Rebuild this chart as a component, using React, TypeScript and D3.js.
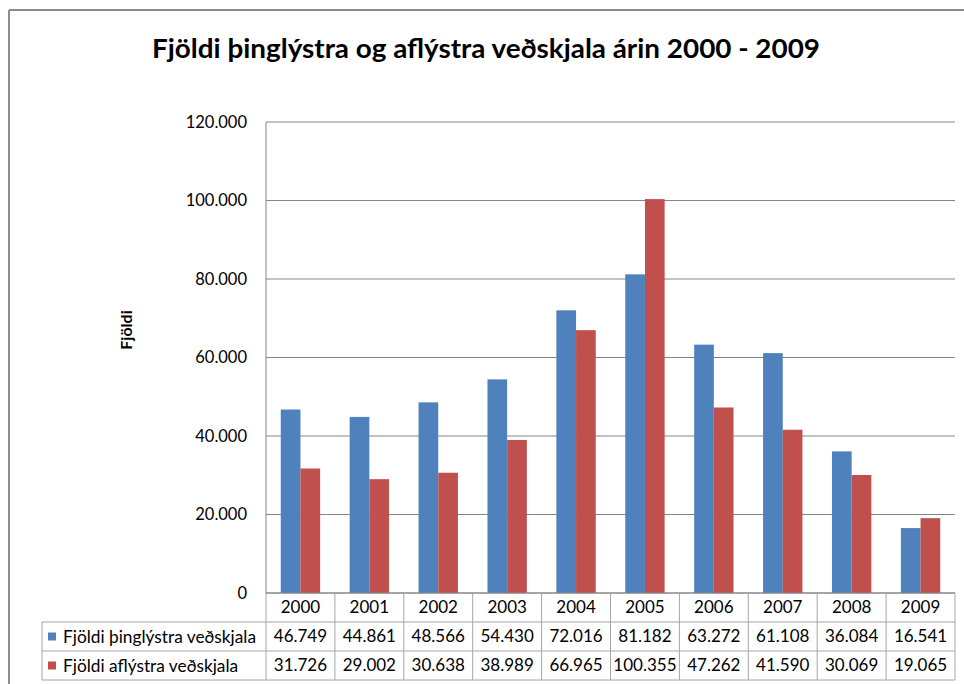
import React from "react";
import * as d3 from "d3";

const years = ["2000", "2001", "2002", "2003", "2004", "2005", "2006", "2007", "2008", "2009"];
const seriesNames = ["Fjöldi þinglýstra veðskjala", "Fjöldi aflýstra veðskjala"];
const thinglyst = [46749, 44861, 48566, 54430, 72016, 81182, 63272, 61108, 36084, 16541];
const aflyst = [31726, 29002, 30638, 38989, 66965, 100355, 47262, 41590, 30069, 19065];
const yTicks = [0, 20000, 40000, 60000, 80000, 100000, 120000];
const colors = ["#4F81BD", "#C0504D"];
const title = "Fjöldi þinglýstra og aflýstra veðskjala árin 2000 - 2009";
const yLabel = "Fjöldi";

const fmt = (v: number) => (v === 0 ? "0" : d3.format(",")(v).replace(/,/g, "."));

export default function App() {
  const W = 964, H = 684;
  const left = 266, right = 955, top = 122, bottom = 593;
  const rowH = 29;
  const legendLeft = 42;
  const font = "Lato, 'Open Sans', sans-serif";
  const grid = "#868686";
  const tableLine = "#A6A6A6";

  const x = d3.scaleBand<string>().domain(years).range([left, right]).padding(0);
  const xi = d3.scaleBand<number>().domain([0, 1]).range([0, x.bandwidth()]).paddingInner(0).paddingOuter(0.75);
  const y = d3.scaleLinear().domain([0, 120000]).range([bottom, top]);
  const series = [thinglyst, aflyst];

  const rowsY = [bottom, bottom + rowH, bottom + 2 * rowH, bottom + 3 * rowH];

  return (
    <svg width={W} height={H} style={{ position: "absolute", left: 0, top: 0, background: "#fff" }}>
      {/* frame */}
      <line x1={9} y1={10} x2={W} y2={10} stroke="#8c8c8c" strokeWidth={2} />
      <line x1={9} y1={10} x2={9} y2={H} stroke="#8c8c8c" strokeWidth={2} />

      <text x={486} y={58} textAnchor="middle" fontFamily={font} fontWeight="bold" fontSize={26} textLength={668} lengthAdjust="spacingAndGlyphs" fill="#000">
        {title}
      </text>

      {/* gridlines */}
      {yTicks.map((t) => (
        <g key={t}>
          <line x1={left} x2={right} y1={y(t)} y2={y(t)} stroke={grid} strokeWidth={1} />
          <text x={247} y={y(t)} dy="0.35em" textAnchor="end" fontFamily={font} fontSize={16.5} fill="#000">
            {fmt(t)}
          </text>
        </g>
      ))}
      <line x1={left} x2={left} y1={top} y2={bottom} stroke={grid} />

      <text transform={`translate(132,330) rotate(-90)`} textAnchor="middle" fontFamily={font} fontWeight="bold" fontSize={16} fill="#000">
        {yLabel}
      </text>

      {/* bars */}
      {series.map((vals, si) =>
        vals.map((v, i) => (
          <rect
            key={`${si}-${i}`}
            x={(x(years[i]) as number) + (xi(si) as number)}
            y={y(v)}
            width={xi.bandwidth()}
            height={bottom - y(v)}
            fill={colors[si]}
          />
        ))
      )}

      {/* data table */}
      <line x1={legendLeft} x2={right} y1={rowsY[1]} y2={rowsY[1]} stroke={tableLine} />
      <line x1={legendLeft} x2={right} y1={rowsY[2]} y2={rowsY[2]} stroke={tableLine} />
      <line x1={legendLeft} x2={right} y1={rowsY[3]} y2={rowsY[3]} stroke={tableLine} />
      <line x1={legendLeft} x2={legendLeft} y1={rowsY[1]} y2={rowsY[3]} stroke={tableLine} />
      {years.map((yr) => (
        <line key={"v" + yr} x1={x(yr) as number} x2={x(yr) as number} y1={rowsY[0]} y2={rowsY[3]} stroke={tableLine} />
      ))}
      <line x1={right} x2={right} y1={rowsY[0]} y2={rowsY[3]} stroke={tableLine} />
      <line x1={left} x2={right} y1={bottom} y2={bottom} stroke={grid} />

      {years.map((yr) => (
        <text key={"t" + yr} x={(x(yr) as number) + x.bandwidth() / 2} y={rowsY[0] + rowH / 2} dy="0.35em" textAnchor="middle" fontFamily={font} fontSize={17} fill="#000">
          {yr}
        </text>
      ))}
      {series.map((vals, si) => (
        <g key={"row" + si}>
          <rect x={48} y={rowsY[si + 1] + rowH / 2 - 4} width={8} height={8} fill={colors[si]} />
          <text x={63} y={rowsY[si + 1] + rowH / 2} dy="0.35em" fontFamily={font} fontSize={17.3} fill="#000">
            {seriesNames[si]}
          </text>
          {vals.map((v, i) => (
            <text key={i} x={(x(years[i]) as number) + x.bandwidth() / 2} y={rowsY[si + 1] + rowH / 2} dy="0.35em" textAnchor="middle" fontFamily={font} fontSize={17} fill="#000">
              {fmt(v)}
            </text>
          ))}
        </g>
      ))}
    </svg>
  );
}
